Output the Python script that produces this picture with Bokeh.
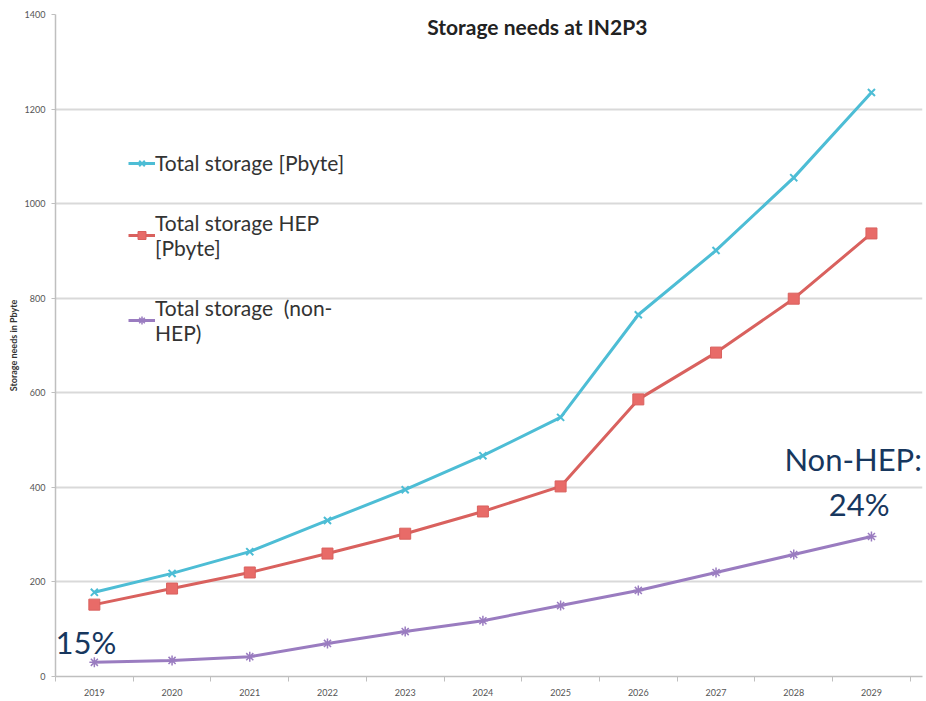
from bokeh.plotting import figure
from bokeh.models import (ColumnDataSource, Legend, LegendItem, Label, FixedTicker,
                          Range1d)
from bokeh.embed import file_html
from bokeh.resources import INLINE

years = [2019, 2020, 2021, 2022, 2023, 2024, 2025, 2026, 2027, 2028, 2029]
total_storage = [178, 218, 264, 330, 395, 467, 548, 765, 901, 1055, 1235]
hep_storage = [152, 186, 220, 260, 302, 349, 402, 586, 685, 799, 937]
non_hep_storage = [30, 34, 42, 70, 95, 118, 150, 182, 220, 258, 296]
y_ticks = [0, 200, 400, 600, 800, 1000, 1200, 1400]

series_labels = ["Total storage [Pbyte]", "Total storage HEP\n[Pbyte]", "Total storage  (non-\nHEP)"]
title_text = "Storage needs at IN2P3"
y_label = "Storage needs in Pbyte"
note_start = "15%"
note_end_1 = "Non-HEP:"
note_end_2 = "24%"

src = ColumnDataSource(dict(x=years, total=total_storage, hep=hep_storage, nonhep=non_hep_storage))

p = figure(width=926, height=701, output_backend="svg", toolbar_location=None,
           x_range=Range1d(2018.5, 2029.657), y_range=Range1d(0, 1400),
           min_border_left=55, min_border_right=4, min_border_top=14, min_border_bottom=25)
p.outline_line_color = None
p.background_fill_color = "white"

GRID = "#D9D9D9"
AX = "#BFBFBF"
p.xgrid.grid_line_color = None
p.ygrid.grid_line_color = GRID
p.ygrid.grid_line_width = 2
p.yaxis.ticker = FixedTicker(ticks=y_ticks)
p.xaxis.ticker = FixedTicker(ticks=years, minor_ticks=[y - 0.5 for y in years] + [years[-1] + 0.5])
for ax in (p.xaxis[0], p.yaxis[0]):
    ax.axis_line_color = AX
    ax.axis_line_width = 1.5
    ax.major_tick_line_color = AX
    ax.minor_tick_line_color = AX
    ax.major_label_text_font = "Lato"
    ax.major_label_text_font_size = "9px"
    ax.major_label_text_color = "#555555"
p.xaxis.major_tick_out = 0
p.xaxis.major_tick_in = 0
p.xaxis.minor_tick_out = 5
p.xaxis.minor_tick_in = 0
p.xaxis.major_label_standoff = 7
p.yaxis.major_tick_out = 4
p.yaxis.major_tick_in = 0
p.yaxis.minor_tick_line_color = None
p.yaxis.major_label_standoff = 6
p.yaxis.axis_label = y_label
p.yaxis.axis_label_text_font = "Lato"
p.yaxis.axis_label_text_font_size = "9px"
p.yaxis.axis_label_text_font_style = "bold"
p.yaxis.axis_label_text_color = "#333333"
p.yaxis.axis_label_standoff = 3

CYAN = "#4DBDD5"
RED = "#D9615E"
PURPLE = "#9A7CC0"

r1 = p.line("x", "total", source=src, color=CYAN, line_width=3)
m1 = p.scatter("x", "total", source=src, marker="x", size=10, line_color=CYAN, line_width=2)
r2 = p.line("x", "hep", source=src, color=RED, line_width=3)
m2 = p.scatter("x", "hep", source=src, marker="square", size=11, fill_color="#E86B68", line_color=RED)
r3 = p.line("x", "nonhep", source=src, color=PURPLE, line_width=3)
m3 = p.scatter("x", "nonhep", source=src, marker="asterisk", size=10, line_color=PURPLE, line_width=1.5)

legend = Legend(items=[LegendItem(label=series_labels[0], renderers=[r1, m1]),
                       LegendItem(label=series_labels[1], renderers=[r2, m2]),
                       LegendItem(label=series_labels[2], renderers=[r3, m3])],
                location=(73, 331), border_line_color=None, background_fill_alpha=0,
                padding=0, margin=0, spacing=35, glyph_width=27, label_standoff=0,
                label_text_font="Lato", label_text_font_size="21px", label_text_color="#333333")
p.add_layout(legend)

p.add_layout(Label(x=2024.7, y=1349, text=title_text, text_align="center", text_font="Lato",
                   text_font_size="21px", text_font_style="bold", text_color="#222222"))
NAVY = "#17375E"
p.add_layout(Label(x=2018.5, y=32, text=note_start, text_font="Lato", text_font_size="31px", text_color=NAVY))
p.add_layout(Label(x=2027.88, y=419, text=note_end_1, text_font="Lato", text_font_size="31px", text_color=NAVY))
p.add_layout(Label(x=2028.45, y=324, text=note_end_2, text_font="Lato", text_font_size="31px", text_color=NAVY))

open("out.html", "w").write(file_html(p, INLINE))
